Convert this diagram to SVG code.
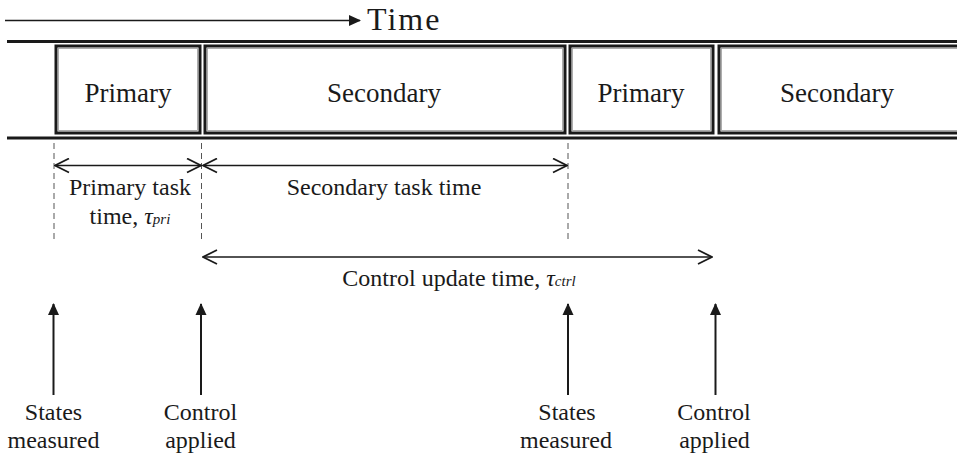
<svg xmlns="http://www.w3.org/2000/svg" width="957" height="455" viewBox="0 0 957 455">
<style>
text{font-family:"Liberation Serif","Times New Roman",serif;fill:#1a1a1a;text-anchor:middle}
.box{fill:#fff;stroke:#1a1a1a;stroke-width:3}
.inner{fill:none;stroke:#9a9a9a;stroke-width:0.8}
.bar{stroke:#1a1a1a;stroke-width:3}
.dash{stroke:#555;stroke-width:1;stroke-dasharray:6 4}
.dim{stroke:#1a1a1a;stroke-width:1.6;fill:none}
.up{stroke:#1a1a1a;stroke-width:2;fill:none}
.bt{font-size:27px}
.lt{font-size:24px}
.sub{font-style:italic;font-size:15px}
.tau{font-style:italic}
</style>
<defs>
<marker id="filled" viewBox="0 0 12 12" refX="11" refY="6" markerWidth="12" markerHeight="12" markerUnits="userSpaceOnUse" orient="auto">
<path d="M0,0.5 L12,6 L0,11.5 Z" fill="#1a1a1a"/>
</marker>
<marker id="open" viewBox="0 0 16 16" refX="15" refY="8" markerWidth="16" markerHeight="16" markerUnits="userSpaceOnUse" orient="auto-start-reverse">
<path d="M1,1 L15,8 L1,15" fill="none" stroke="#1a1a1a" stroke-width="1.8"/>
</marker>
</defs>
<rect width="957" height="455" fill="#fff"/>

<g id="time-axis">
<line x1="5" y1="20.5" x2="360" y2="20.5" stroke="#1a1a1a" stroke-width="1.6" marker-end="url(#filled)"/>
<text x="367" y="30" style="font-size:32px;text-anchor:start;letter-spacing:2px">Time</text>
</g>

<g id="rails">
<line class="bar" x1="7" y1="41.5" x2="957" y2="41.5"/>
<line class="bar" x1="7" y1="138" x2="957" y2="138"/>
</g>

<g id="primary-1">
<rect class="box" x="56" y="46" width="144" height="87"/>
<rect class="inner" x="58.5" y="48.5" width="139" height="82"/>
<text class="bt" x="128" y="102">Primary</text>
</g>
<g id="secondary-1">
<rect class="box" x="205" y="46" width="360" height="87"/>
<rect class="inner" x="207.5" y="48.5" width="355" height="82"/>
<text class="bt" x="384" y="102">Secondary</text>
</g>
<g id="primary-2">
<rect class="box" x="570" y="46" width="143" height="87"/>
<rect class="inner" x="572.5" y="48.5" width="138" height="82"/>
<text class="bt" x="641" y="102">Primary</text>
</g>
<g id="secondary-2">
<rect class="box" x="719" y="46" width="250" height="87"/>
<rect class="inner" x="721.5" y="48.5" width="245" height="82"/>
<text class="bt" x="837" y="102">Secondary</text>
</g>

<g id="connectors">
<line class="dash" x1="54" y1="143" x2="54" y2="240"/>
<line class="dash" x1="201.5" y1="143" x2="201.5" y2="240"/>
<line class="dash" x1="568" y1="143" x2="568" y2="240"/>
<line class="dim" x1="55" y1="165.5" x2="201" y2="165.5" marker-start="url(#open)" marker-end="url(#open)"/>
<line class="dim" x1="203" y1="165.5" x2="567" y2="165.5" marker-start="url(#open)" marker-end="url(#open)"/>
<line class="dim" x1="203" y1="257" x2="712" y2="257" marker-start="url(#open)" marker-end="url(#open)"/>
<line class="up" x1="53.5" y1="395" x2="53.5" y2="304" marker-end="url(#filled)"/>
<line class="up" x1="201" y1="395" x2="201" y2="304" marker-end="url(#filled)"/>
<line class="up" x1="568" y1="395" x2="568" y2="304" marker-end="url(#filled)"/>
<line class="up" x1="715.5" y1="395" x2="715.5" y2="304" marker-end="url(#filled)"/>
</g>

<g id="label-primary-time">
<text class="lt" x="130" y="195">Primary task</text>
<text class="lt" x="130" y="224">time, <tspan class="tau">τ</tspan><tspan class="sub">pri</tspan></text>
</g>
<g id="label-secondary-time">
<text class="lt" x="384" y="195">Secondary task time</text>
</g>
<g id="label-control-time">
<text class="lt" x="459" y="286">Control update time, <tspan class="tau">τ</tspan><tspan class="sub">ctrl</tspan></text>
</g>
<g id="states-1">
<text class="lt" x="53.5" y="420">States</text>
<text class="lt" x="53.5" y="448">measured</text>
</g>
<g id="control-1">
<text class="lt" x="200.5" y="420">Control</text>
<text class="lt" x="200.5" y="448">applied</text>
</g>
<g id="states-2">
<text class="lt" x="567" y="420">States</text>
<text class="lt" x="566" y="448">measured</text>
</g>
<g id="control-2">
<text class="lt" x="714" y="420">Control</text>
<text class="lt" x="714.5" y="448">applied</text>
</g>
</svg>
